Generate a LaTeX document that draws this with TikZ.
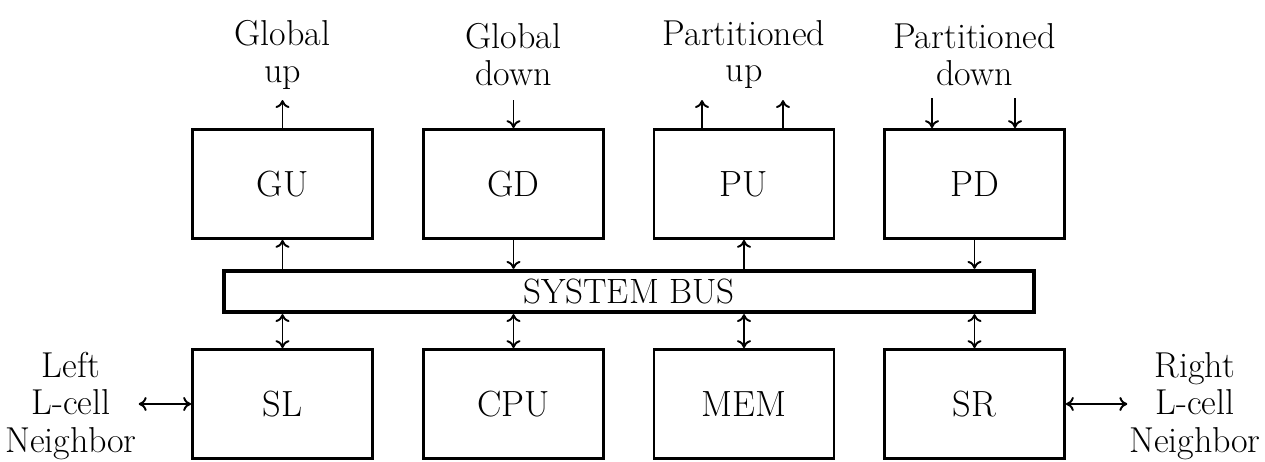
\documentclass[tikz,border=0pt]{standalone}
\usepackage{latexsym,amssymb}
\usepackage{tikz}
\usetikzlibrary{calc,shapes,arrows.meta}

\begin{document}
\begin{tikzpicture}[>={To[length=4.5pt,width=8pt]},
    unit/.style={draw,line width=1.6pt,minimum width=3.6cm,minimum height=2.18cm,font=\huge},
    bus/.style={draw,line width=2.4pt,minimum width=16.2cm,minimum height=0.82cm,font=\fontsize{20}{21}\selectfont},
    lbl/.style={align=center,font=\fontsize{20.5}{21}\selectfont},
    link/.style={line width=1.1pt}]
          \useasboundingbox (0,0) rectangle (25.3,9.24);
          \node[unit] (gu) at (5.65,5.56) {GU};
          \node[unit] (gd) at (10.27,5.56) {GD};
          \node[unit] (pu) at (14.88,5.56) {PU};
          \node[unit] (pd) at (19.49,5.56) {PD};
          \node[bus] (sysbus) at (12.58,3.41) {SYSTEM BUS};
          \node[unit] (sl) at (5.65,1.16) {SL};
          \node[unit] (cpu) at (10.27,1.16) {CPU};
          \node[unit] (mem) at (14.88,1.16) {MEM};
          \node[unit] (sr) at (19.49,1.16) {SR};
          \node[lbl] (gup) at (5.65,8.15) {Global\\up};
          \node[lbl] (gdown) at (10.27,8.15) {Global\\down};
          \node[lbl] (pup) at (14.88,8.15) {Partitioned\\up};
          \node[lbl] (pdown) at (19.49,8.15) {Partitioned\\down};
          \node[lbl,inner sep=1pt] (lnb) at (1.42,1.12) {Left\\[0.5pt]L-cell\\[0.5pt]Neighbor};
          \node[lbl,inner sep=1pt] (rnb) at (23.9,1.12) {Right\\[0.5pt]L-cell\\[0.5pt]Neighbor};
          \coordinate (guo) at ($(gu.north)+(0,0.56)$);
          \coordinate (gdi) at ($(gd.north)+(0,0.56)$);
          \coordinate (puo1) at ($(pu.north)+(-0.84,0.56)$);
          \coordinate (puo2) at ($(pu.north)+(0.78,0.56)$);
          \coordinate (pdi1) at ($(pd.north)+(-0.85,0.6)$);
          \coordinate (pdi2) at ($(pd.north)+(0.81,0.6)$);
          \draw[link,->] (gu.north) -- (guo);
          \draw[link,->] (gdi) -- (gd.north);
          \draw[link,->] (puo1 |- pu.north) -- (puo1);
          \draw[link,->] (puo2 |- pu.north) -- (puo2);
          \draw[link,->] (pdi1) -- (pdi1 |- pd.north);
          \draw[link,->] (pdi2) -- (pdi2 |- pd.north);
          \draw[link,->] (gu.south |- sysbus.north) -- (gu.south);
          \draw[link,->] (gd.south) -- (gd.south |- sysbus.north);
          \draw[link,->] (pu.south |- sysbus.north) -- (pu.south);
          \draw[link,->] (pd.south) -- (pd.south |- sysbus.north);
          \draw[link,<->] (sl.north |- sysbus.south) -- (sl.north);
          \draw[link,<->] (cpu.north |- sysbus.south) -- (cpu.north);
          \draw[link,<->] (mem.north |- sysbus.south) -- (mem.north);
          \draw[link,<->] (sr.north |- sysbus.south) -- (sr.north);
          \draw[link,<->] (lnb.east |- sl.west) -- (sl.west);
          \draw[link,<->] (sr.east) -- (rnb.west |- sr.east);
        \end{tikzpicture}
\end{document}
